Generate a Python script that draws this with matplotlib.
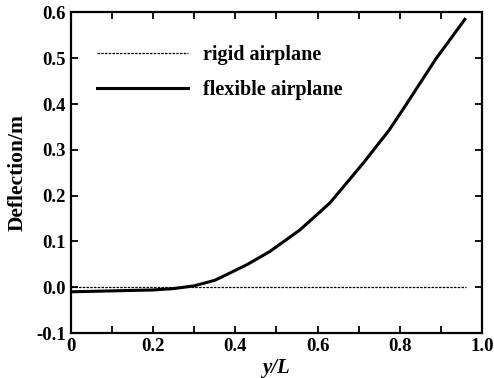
import matplotlib.pyplot as plt
from matplotlib.ticker import MultipleLocator

plt.rcParams['font.family'] = 'Liberation Serif'
plt.rcParams['font.weight'] = 'bold'

# flexible airplane deflection along span
span = [0.0, 0.1, 0.2, 0.25, 0.3, 0.35, 0.387, 0.43, 0.484, 0.557, 0.63, 0.711, 0.774, 0.814, 0.887, 0.958]
flex = [-0.010, -0.008, -0.006, -0.003, 0.003, 0.015, 0.031, 0.050, 0.078, 0.125, 0.184, 0.271, 0.343, 0.397, 0.498, 0.585]
# rigid airplane
rigid_x = [0.0, 0.96]
rigid_y = [0.0, 0.0]

xticks = [0, 0.2, 0.4, 0.6, 0.8, 1.0]
xlabels = ['0', '0.2', '0.4', '0.6', '0.8', '1.0']
yticks = [-0.1, 0, 0.1, 0.2, 0.3, 0.4, 0.5, 0.6]
ylabels = ['-0.1', '0.0', '0.1', '0.2', '0.3', '0.4', '0.5', '0.6']

fig = plt.figure(figsize=(4.94, 3.78), dpi=100)
ax = fig.add_axes([0.143, 0.119, 0.833, 0.848])

ax.plot(rigid_x, rigid_y, color='black', linewidth=0.9, linestyle=(0, (2, 1)), label='rigid airplane')
ax.plot(span, flex, color='black', linewidth=2.2, label='flexible airplane')

ax.set_xlim(0, 1.0)
ax.set_ylim(-0.1, 0.6)
ax.set_xticks(xticks)
ax.set_xticklabels(xlabels)
ax.xaxis.set_minor_locator(MultipleLocator(0.1))
ax.set_yticks(yticks)
ax.set_yticklabels(ylabels)

ax.tick_params(which='both', direction='in', top=True, right=True, labelsize=13.5, width=1.3, length=5)
for s in ax.spines.values():
    s.set_linewidth(1.6)

ax.set_ylabel('Deflection/m', fontsize=15.5, fontweight='bold', labelpad=6)
ax.set_xlabel('y/L', fontsize=15, fontweight='bold', style='italic', labelpad=2)

ax.legend(loc='upper left', bbox_to_anchor=(0.021, 0.954), frameon=False, fontsize=14.5,
          handlelength=4.5, handletextpad=0.75, labelspacing=0.75, borderpad=0.4)

fig.savefig('out.png', dpi=100)
